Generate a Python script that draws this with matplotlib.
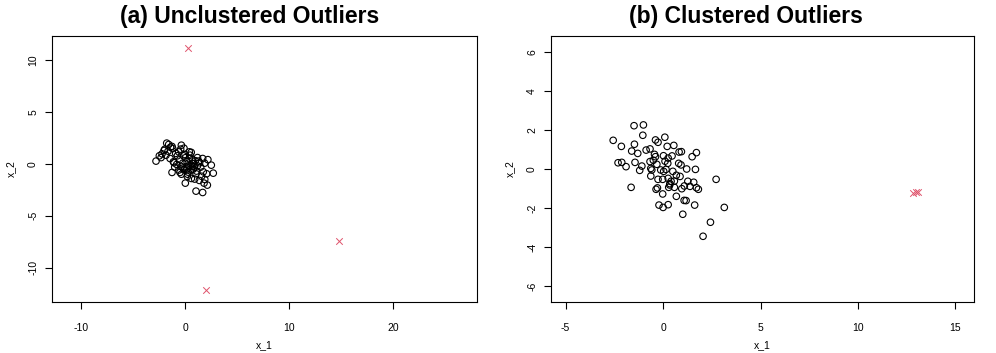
"""
plot.py
Two scatter panels (R base-graphics look): normal points as open circles,
outliers as red crosses.
"""

import matplotlib
matplotlib.use("Agg")
import matplotlib.pyplot as plt

# ------------------------- Datos -------------------------

# (a) points
a_x = [-2.79, -2.47, -2.21, -2.02, -1.76, -1.57, -1.25, -1.19, -1.63, -1.44,
       -1.83, -1.12, -1.25, -0.99, -0.80, -0.74, -0.61, -0.35, -0.42, -0.16,
       0.03, 0.42, 0.48, -0.22, -0.35, -0.10, 0.16, 0.35, 0.67, 0.80,
       1.06, 1.31, 1.70, 1.89, 1.51, 1.76, 2.08, 2.53, 2.72, 1.38,
       1.83, 2.15, 0.03, 1.06, 1.70, 0.22, 0.61, 0.93, -0.48, -0.35,
       0.20, 0.50, 0.80, 0.30, 0.60, 1.00, 0.10, -0.50, 0.90, 1.20,
       0.40, 0.70, -0.20, 1.40, 1.10, 0.00, -0.90, -1.40, -0.60, 1.60,
       1.90, 2.20, 1.20, -0.10, 0.60, -2.30, -1.95, -1.05, 0.25, 0.75]
a_y = [0.26, 0.77, 0.96, 1.28, 1.99, 1.86, 1.67, 1.47, 1.22, 0.51,
       0.83, 0.19, -0.83, -0.32, -0.06, 0.77, 1.15, 1.79, 1.41, 0.77,
       0.58, 1.15, 0.83, 0.06, -0.26, -0.58, -0.51, -0.19, 0.06, -0.51,
       -0.96, 0.26, 0.51, 0.06, -0.32, -0.77, -0.96, -0.13, -0.90, -1.60,
       -1.86, -2.05, -1.86, -2.63, -2.76, -1.22, -1.41, -1.47, -0.83, -1.00,
       0.20, -0.20, 0.00, -0.80, -0.60, 0.30, -0.30, 0.40, -0.30, -0.20,
       0.50, 0.40, -0.40, 0.10, -0.70, 0.90, 1.00, 1.60, -0.60, -1.20,
       -1.50, 0.40, 0.60, 1.50, 1.10, 0.60, 1.40, 0.10, -1.00, -0.25]
a_out_x = [0.30, 14.80, 2.00]
a_out_y = [11.15, -7.40, -12.10]

# (b) points
b_x = [-1.49, -1.01, -1.04, -2.56, -2.14, -1.47, -1.61, -1.30, -0.39, -0.26,
       0.09, 0.21, 0.55, -0.87, -0.67, -0.44, -0.39, 0.02, 0.26, 0.46,
       0.82, 0.94, 1.71, 1.49, -2.31, -2.12, -1.90, -1.44, -1.09, -1.20,
       -0.67, -0.63, -0.58, -0.32, -0.12, 0.03, 0.15, 0.24, 0.80, 0.92,
       1.21, 1.66, 0.50, 0.68, 0.87, -0.63, -0.26, -0.02, 0.26, 0.41,
       0.58, 1.27, 1.57, 0.34, 0.29, 0.58, 0.96, 1.09, 1.38, 1.71,
       1.81, -1.64, -0.36, -0.29, -0.02, 0.68, 1.08, 1.18, -0.21, 0.00,
       0.26, 1.62, 1.01, 2.72, 2.43, 2.05, 3.14, -0.50, 0.10, 0.35]
b_y = [2.22, 2.26, 1.73, 1.47, 1.16, 1.27, 0.92, 0.80, 1.49, 1.37,
       1.63, 1.16, 1.21, 0.97, 1.03, 0.75, 0.63, 0.68, 0.56, 0.67,
       0.87, 0.89, 0.84, 0.63, 0.32, 0.34, 0.12, 0.34, 0.15, -0.07,
       0.38, 0.03, -0.05, 0.24, -0.05, -0.12, -0.02, 0.29, 0.29, 0.21,
       0.00, -0.02, -0.12, -0.32, -0.38, -0.36, -0.53, -0.53, -0.48, -0.63,
       -0.62, -0.63, -0.68, -0.82, -0.94, -0.94, -1.01, -0.87, -0.89, -0.96,
       -1.04, -0.94, -1.04, -0.97, -1.28, -1.40, -1.61, -1.62, -1.85, -1.97,
       -1.83, -1.85, -2.32, -0.53, -2.73, -3.45, -1.97, 0.45, 0.40, -0.75]
b_out_x = [12.80, 13.00, 13.10]
b_out_y = [-1.22, -1.20, -1.18]

# ticks / limits
a_xticks = [-10, 0, 10, 20]
a_yticks = [-10, -5, 0, 5, 10]
b_xticks = [-5, 0, 5, 10, 15]
b_yticks = [-6, -4, -2, 0, 2, 4, 6]

RED = "#DF536B"
W, H = 996, 353

plt.rcParams["font.family"] = ["Liberation Sans", "DejaVu Sans"]


def r_style(ax, xticks, yticks):
    # look of R base graphics: box, outward ticks, vertical y labels
    for s in ax.spines.values():
        s.set_linewidth(0.8)
    ax.set_xticks(xticks)
    ax.set_yticks(yticks)
    ax.set_xticklabels([str(t) for t in xticks])
    ax.set_yticklabels([str(t) for t in yticks], rotation=90, va="center")
    ax.tick_params(direction="out", length=5, width=0.8, labelsize=7.5)
    ax.tick_params(axis="x", pad=10)
    ax.tick_params(axis="y", pad=5)
    ax.set_xlabel("x_1", fontsize=7.5, labelpad=5.5)
    ax.set_ylabel("x_2", fontsize=7.5, labelpad=9)


def panel(fig, rect, x, y, ox, oy, xlim, ylim, xticks, yticks, title, tx):
    ax = fig.add_axes(rect)
    ax.scatter(x, y, s=22, facecolors="none", edgecolors="black", linewidths=0.8)
    ax.scatter(ox, oy, s=22, marker="x", color=RED, linewidths=0.7)
    ax.set_xlim(*xlim)
    ax.set_ylim(*ylim)
    r_style(ax, xticks, yticks)
    fig.text(tx / W, 1 - 17 / H, title, ha="center", va="center",
             fontsize=16.5, fontweight="bold")
    return ax


def px_rect(left, top, right, bottom):
    return [left / W, 1 - bottom / H, (right - left) / W, (bottom - top) / H]


def main():
    fig = plt.figure(figsize=(W / 100, H / 100), dpi=100)
    panel(fig, px_rect(52, 36, 477, 302), a_x, a_y, a_out_x, a_out_y,
          (-12.8, 28.1), (-13.3, 12.3), a_xticks, a_yticks,
          "(a) Unclustered Outliers", 250)
    panel(fig, px_rect(551, 36, 974, 302), b_x, b_y, b_out_x, b_out_y,
          (-5.75, 15.95), (-6.82, 6.82), b_xticks, b_yticks,
          "(b) Clustered Outliers", 746)
    fig.savefig("out.png", dpi=100)
    plt.close(fig)


if __name__ == "__main__":
    main()
